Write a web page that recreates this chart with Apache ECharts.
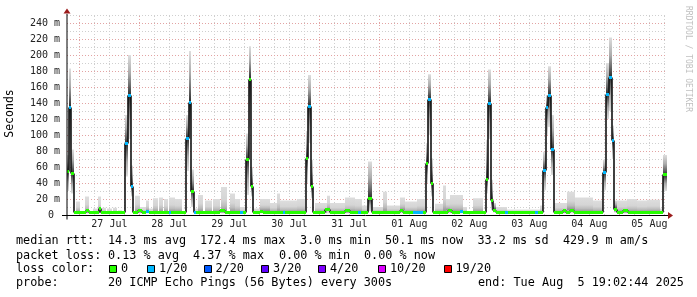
<!DOCTYPE html>
<html><head><meta charset="utf-8">
<script src="https://cdn.jsdelivr.net/npm/echarts@6/dist/echarts.min.js"></script>
<style>html,body{margin:0;padding:0;background:#fff}#c{width:697px;height:297px}</style>
</head><body><div id="c"></div>
<script>
// ---- time frame: x = hours since graph start (Sat Jul 26 19:02:44 2025), 10 days shown
const startClock = 19 + 2/60 + 44/3600;
const spanHours = 240;
const dayLabels = ['27 Jul','28 Jul','29 Jul','30 Jul','31 Jul','01 Aug','02 Aug','03 Aug','04 Aug','05 Aug'];
const yMax = 250;                      // ms
const yLabelValues = [0,20,40,60,80,100,120,140,160,180,200,220,240];
const yUnit = 'm';

// ---- loss colours / legend
const lossLabels = ['0','1/20','2/20','3/20','4/20','10/20','19/20'];
const lossColors = ['#26ff00','#00b8ff','#0059ff','#5e00ff','#7e00ff','#dd00ff','#ff0000'];

// ---- median RTT (ms) as a step function: [start hour, median ms, loss index]
const medianSteps = [
 [0,55,0],[0.6,135,1],[1.68,52,0],[2.6,3.2,0],
 [7.6,6,0],[8.8,3.2,0],[12.8,8,0],[13.6,3.2,0],
 [23.32,89,1],[24.4,149,1],[25.48,36,1],[26.52,3.2,0],
 [28.4,6,0],[30,3.2,0],[31.6,4.5,1],[32.8,3.2,0],[40.8,3.2,1],[41.6,3.2,0],
 [47.6,96,1],[48.68,141,1],[49.68,30,0],[50.64,3.2,1],[51.4,3.2,0],
 [61.2,6,0],[63.2,3.2,0],[69.2,3.2,1],[70.4,3.2,0],
 [71.6,69,0],[72.6,170,0],[73.56,36,0],[74.52,3.2,0],
 [77.2,5,0],[78.4,3.2,0],[86.4,3.2,1],[87.2,3.2,0],
 [95.48,71,0],[96.52,136,1],[97.56,36,0],[98.52,3.2,0],
 [103.2,6.5,0],[105.2,3.2,0],[111.2,6,0],[113.2,3.2,0],[116.4,3.2,1],[117.6,3.2,0],
 [120.5,21,0],[121.9,3.2,0],
 [133.2,6,0],[134.4,3.2,0],[138.4,3.2,1],[142.4,3.2,0],
 [143.52,64,0],[144.56,145,1],[145.6,40,0],[146.56,3.2,0],
 [152.4,6,0],[154,3.2,0],[157.2,4,1],[158.4,3.2,0],
 [167.4,45,0],[168.44,140,1],[169.48,18,0],[170.52,6,0],[171.4,3.2,0],
 [175.2,3.2,1],[176.4,3.2,0],[187.2,3.2,1],[188.4,3.2,0],
 [190.28,56,1],[191.4,135,1],[192.48,150,1],[193.56,82,1],[194.6,3.2,0],
 [198.4,6,0],[199.6,3.2,0],[201.2,6,0],[202.8,3.2,0],
 [214.52,53,1],[215.6,151,1],[216.72,172.4,1],[217.8,93,1],[218.92,7,0],[219.8,3.2,0],
 [222.4,6,0],[224.4,3.2,0],
 [238.52,50.1,0]
];

// ---- smoke around spikes: [start h, end h, low ms, median ms, high ms]
const smokeSpikes = [
 [0,0.6,30,55,75],[0.6,1.68,70,135,183],[1.68,2.6,27,52,82],
 [23.32,24.4,48,89,125],[24.4,25.48,95,149,200],[25.48,26.52,23,36,62],
 [47.6,48.68,55,96,125],[48.68,49.68,95,141,205],[49.68,50.64,10,30,57],
 [71.6,72.6,25,69,102],[72.6,73.56,110,170,211],[73.56,74.52,23,36,60],
 [95.48,96.52,40,71,105],[96.52,97.56,90,136,175],[97.56,98.52,21,36,69],
 [120.5,121.9,5,21,67],
 [143.52,144.56,40,64,90],[144.56,145.6,100,145,176],[145.6,146.56,23,40,71],
 [167.4,168.44,27,45,94],[168.44,169.48,95,140,182],[169.48,170.52,6,18,44],[170.52,171.4,3,6,15],
 [190.28,191.4,31,56,79],[191.4,192.48,100,135,150],[192.48,193.56,110,150,186],[193.56,194.6,50,82,125],
 [214.52,215.6,31,53,69],[215.6,216.72,120,151,190],[216.72,217.8,130,172.4,222],[217.8,218.92,70,93,112],[218.92,219.8,3,7,18],
 [238.52,240,30,50.1,75]
];
// ---- smoke on the quiet baseline: [start h, end h, low ms, median ms, high ms]
const smokeBase = [
 [3.6,5.2,2,3.2,17],[7.2,8.8,2,3.2,23],[10.4,12.4,2,3.2,8],[12.4,13.6,2,3.2,23],[14,15.6,2,3.2,9],
 [16,18,2,3.2,8],[18.4,20,2,3.2,9],[20.4,22,2,3.2,6],
 [27.2,29.2,2,3.2,24],[29.2,31.6,2,3.2,10],[31.6,32.8,2,4.5,18],[32.8,34.4,2,3.2,8],[34.4,36.4,2,3.2,21],
 [36.8,38.4,2,3.2,22],[38.8,40.4,2,3.2,20],[40.8,43.2,2,3.2,22],[43.2,46,2,3.2,20],
 [51.2,52.4,2,3.2,8],[52.4,54.4,2,3.2,25],[55.2,58,2,3.2,18],[58.4,61.2,2,3.2,20],[61.6,64,2,3.2,35],
 [65.2,67.2,2,3.2,27],[67.2,69.2,2,3.2,20],[69.2,71.6,2,3.2,10],
 [74.52,77.2,2,3.2,8],[77.2,81.2,2,5,20],[81.2,84,2,3.2,15],[84,85.2,2,3.2,27],[85.2,92,2,3.2,18],[92,95.2,2,3.2,20],
 [99.2,104,2,3.2,15],[104,105.2,2,6.5,24],[105.2,111.2,2,3.2,15],[111.2,115.2,2,3.2,22],[115.2,118,2,3.2,20],[118,120.4,2,3.2,12],
 [122.4,126.4,2,3.2,10],[126.4,128,2,3.2,29],[128,133.2,2,3.2,12],[133.2,135.2,2,6,22],[135.2,140,2,3.2,17],[140,143.2,2,3.2,20],
 [147.2,150.4,2,3.2,14],[150.4,151.6,2,3.2,37],[151.6,153.2,2,6,20],[153.2,158.4,2,3.2,25],[158.4,160,2,3.2,10],[162.4,166.4,2,3.2,21],
 [171.4,176,2,3.2,10],[176,189.2,2,3.2,7],[189.2,190.28,2,3.2,12],
 [194.6,200,2,3.2,15],[200,203.2,2,6,29],[203.2,210.4,2,3.2,22],[210.4,214.4,2,3.2,18],
 [219.8,224,2,3.2,18],[224,228,2,3.2,20],[228,232,2,3.2,18],[232,237.2,2,3.2,19],[237.2,238.4,2,3.2,8]
];

// ---- legend text
const legendRtt = ['median rtt:','14.3 ms avg','172.4 ms max','3.0 ms min','50.1 ms now','33.2 ms sd','429.9 m am/s'];
const legendLoss = ['packet loss:','0.13 % avg','4.37 % max','0.00 % min','0.00 % now'];
const legendLossTitle = 'loss color:';
const legendProbe = ['probe:','20 ICMP Echo Pings (56 Bytes) every 300s','end: Tue Aug  5 19:02:44 2025'];
const yTitle = 'Seconds';
const watermark = 'RRDTOOL / TOBI OETIKER';

// ---------------- styling / layout ----------------
const MONO = "'DejaVu Sans Mono', monospace";
const MAJOR = '#e2a3a3', MINOR = '#cfcfcf';

// tick positions derived from the clock
const gridV = [];
for (let j = Math.ceil(startClock/6); 6*j - startClock <= spanHours; j++) gridV.push([6*j - startClock, j % 4 === 0 ? 1 : 0]);
const gridH = [];
for (let v = 10; v <= yMax; v += 10) gridH.push([v, yLabelValues.indexOf(v) >= 0 ? 1 : 0]);
const labelPos = dayLabels.map((d, k) => [24*(k+1) - startClock + 12, k]);

const medSeg = medianSteps.map((s, i) => [s[0], s[1], s[2], i + 1 < medianSteps.length ? medianSteps[i+1][0] : spanHours]);
const medJump = medianSteps.slice(1).map((s, i) => [s[0], medianSteps[i][1], s[1]]);

const crisp = v => Math.floor(v) + 0.5;

function smokeRender(shades) {
  const down = shades.map(c => ({offset:c[0], color:c[1]}));
  const up = shades.map(c => ({offset:1 - c[0], color:c[1]})).reverse();
  return function (params, api) {
    const t0 = api.value(0), t1 = api.value(1), lo = api.value(2), md = api.value(3), hi = api.value(4);
    const pHi = api.coord([t0, hi]), pMd = api.coord([t1, md]), pLo = api.coord([t1, lo]);
    const x0 = Math.round(pHi[0]), x1 = Math.round(pMd[0]);
    const ch = [];
    if (hi > md) ch.push({type:'rect', shape:{x:x0, y:pHi[1], width:x1-x0, height:pMd[1]-pHi[1]},
      style:{fill:new echarts.graphic.LinearGradient(0,0,0,1, up)}});
    if (md > lo) ch.push({type:'rect', shape:{x:x0, y:pMd[1], width:x1-x0, height:pLo[1]-pMd[1]},
      style:{fill:new echarts.graphic.LinearGradient(0,0,0,1, down)}});
    return {type:'group', children:ch};
  };
}
const spikeShades = [[0,'#2a2a2a'],[0.25,'#6a6a6a'],[0.55,'#ababab'],[1,'#dedede']];
const baseShades = [[0,'#8a8a8a'],[0.25,'#bcbcbc'],[0.5,'#d5d5d5'],[1,'#dddddd']];

const chart = echarts.init(document.getElementById('c'), null, {renderer:'canvas', width:697, height:297});
chart.setOption({
  animation:false,
  backgroundColor:'#ffffff',
  grid:{left:67, top:15, width:600, height:200, containLabel:false, outerBoundsMode:'none'},
  xAxis:{type:'value', min:0, max:spanHours, axisLine:{show:false}, axisTick:{show:false}, axisLabel:{show:false}, splitLine:{show:false}},
  yAxis:{type:'value', min:0, max:yMax, interval:10, axisLine:{show:false}, axisTick:{show:false}, splitLine:{show:false},
    axisLabel:{margin:7, color:'#222', fontFamily:'DejaVu Sans Mono', fontSize:10,
      formatter:v => yLabelValues.indexOf(v) < 0 ? '' : (v === 0 ? '0 ' : v + ' ' + yUnit)}},
  series:[
    {type:'custom', z:1, silent:true, data:gridV, renderItem:(p, api) => {
      const a = api.coord([api.value(0), 0]), b = api.coord([api.value(0), yMax]);
      const x = crisp(a[0]);
      return {type:'line', shape:{x1:x, y1:a[1], x2:x, y2:b[1]}, style:{stroke:api.value(1) ? MAJOR : MINOR, lineWidth:1, lineDash:[1,2]}};
    }},
    {type:'custom', z:1, silent:true, data:gridH, renderItem:(p, api) => {
      const a = api.coord([0, api.value(0)]), b = api.coord([spanHours, api.value(0)]);
      const y = crisp(a[1]);
      return {type:'line', shape:{x1:a[0], y1:y, x2:b[0], y2:y}, style:{stroke:api.value(1) ? MAJOR : MINOR, lineWidth:1, lineDash:[1,2]}};
    }},
    {type:'custom', z:2, silent:true, data:smokeBase, renderItem:smokeRender(baseShades)},
    {type:'custom', z:2, silent:true, data:smokeSpikes, renderItem:smokeRender(spikeShades)},
    {type:'custom', z:3, silent:true, data:medJump, renderItem:(p, api) => {
      const a = api.coord([api.value(0), api.value(1)]), b = api.coord([api.value(0), api.value(2)]);
      const x = Math.round(a[0]);
      return {type:'line', shape:{x1:x, y1:crisp(a[1]), x2:x, y2:crisp(b[1])}, style:{stroke:'#111', lineWidth:1.6}};
    }},
    {type:'custom', z:4, silent:true, data:medSeg, renderItem:(p, api) => {
      const a = api.coord([api.value(0), api.value(1)]), b = api.coord([api.value(3), api.value(1)]);
      const y = crisp(a[1]);
      return {type:'line', shape:{x1:Math.round(a[0]), y1:y, x2:Math.round(b[0]), y2:y}, style:{stroke:lossColors[api.value(2)], lineWidth:3, lineCap:'butt'}};
    }},
    {type:'custom', z:5, silent:true, data:labelPos, renderItem:(p, api) => {
      const a = api.coord([api.value(0), 0]);
      return {type:'text', x:a[0], y:a[1] + 9.5, style:{text:dayLabels[api.value(1)], font:'10px ' + MONO, fill:'#222', align:'center', verticalAlign:'middle'}};
    }}
  ]
});

// axes, arrows, legend
const o = chart.convertToPixel({gridIndex:0}, [0, 0]);
const e = chart.convertToPixel({gridIndex:0}, [spanHours, yMax]);
const ax = Math.round(o[0]), ay = crisp(o[1]), ex = Math.round(e[0]);
const g = [];
g.push({type:'line', shape:{x1:ax-5, y1:ay, x2:ex+2, y2:ay}, style:{stroke:'#000', lineWidth:1}, z:10});
g.push({type:'line', shape:{x1:ax, y1:ay+4, x2:ax, y2:e[1]-1}, style:{stroke:'#000', lineWidth:1}, z:10});
g.push({type:'polygon', shape:{points:[[ex+1, ay-3.5],[ex+6, ay],[ex+1, ay+3.5]]}, style:{fill:'#9b1c1c'}, z:10});
g.push({type:'polygon', shape:{points:[[ax-3.5, e[1]-1.5],[ax, e[1]-6.5],[ax+3.5, e[1]-1.5]]}, style:{fill:'#9b1c1c'}, z:10});
g.push({type:'text', x:10, y:113.5, rotation:Math.PI/2, style:{text:yTitle, font:'11.5px ' + MONO, fill:'#000', align:'center', verticalAlign:'middle'}});
g.push({type:'text', x:688.5, y:59, rotation:-Math.PI/2, style:{text:watermark, font:'8px ' + MONO, fill:'#c0c0c0', align:'center', verticalAlign:'middle'}});

const LF = '11.8px ' + MONO;
const rowY = [241, 255.5, 269, 283.3];
const rttX = [16,108,200,300,385,477.5,563];
legendRtt.forEach((t, i) => g.push({type:'text', x:rttX[i], y:rowY[0], style:{text:t, font:LF, fill:'#000', verticalAlign:'middle'}}));
const lossX = [16,108,193,279,364];
legendLoss.forEach((t, i) => g.push({type:'text', x:lossX[i], y:rowY[1], style:{text:t, font:LF, fill:'#000', verticalAlign:'middle'}}));
g.push({type:'text', x:16, y:rowY[2], style:{text:legendLossTitle, font:LF, fill:'#000', verticalAlign:'middle'}});
const boxX = [109,147,203.5,261,318,378,443.5];
lossLabels.forEach((t, i) => {
  g.push({type:'rect', shape:{x:Math.round(boxX[i]) + 0.5, y:265.5, width:7, height:7}, style:{fill:lossColors[i], stroke:'#000', lineWidth:1}});
  g.push({type:'text', x:boxX[i] + 12, y:rowY[2], style:{text:t, font:LF, fill:'#000', verticalAlign:'middle'}});
});
const probeX = [16,108,478];
legendProbe.forEach((t, i) => g.push({type:'text', x:probeX[i], y:rowY[3], style:{text:t, font:LF, fill:'#000', verticalAlign:'middle'}}));
chart.setOption({graphic:g});
</script>
</body></html>
